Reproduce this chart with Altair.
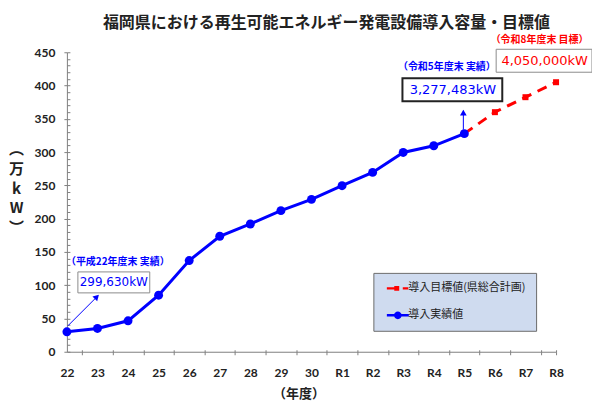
import json
import altair as alt
import pandas as pd

# ---------------- data ----------------
categories = ["22", "23", "24", "25", "26", "27", "28", "29", "30",
              "R1", "R2", "R3", "R4", "R5", "R6", "R7", "R8"]
actual_categories = ["22", "23", "24", "25", "26", "27", "28", "29", "30",
                     "R1", "R2", "R3", "R4", "R5"]
actual_values = [29.963, 35, 46.5, 85, 137, 173.5, 192, 212, 229,
                 249.5, 269.5, 299.5, 309.5, 327.7483]
target_categories = ["R5", "R6", "R7", "R8"]
target_values = [327.7483, 360, 382.5, 405]
series_names = ["導入目標値(県総合計画)", "導入実績値"]
series_colors = ["#ff0000", "#0000ff"]

ann_categories = ["22", "R5", "R8"]
ann_series = [series_names[1], series_names[1], series_names[0]]
ann_captions = ["（平成22年度末 実績）", "（令和5年度末 実績）", "（令和8年度末 目標）"]
ann_texts = ["299,630kW", "3,277,483kW", "4,050,000kW"]

rows = []
for c, v in zip(actual_categories, actual_values):
    rows.append({"series": series_names[1], "cat": c, "idx": categories.index(c), "value": v})
for c, v in zip(target_categories, target_values):
    rows.append({"series": series_names[0], "cat": c, "idx": categories.index(c), "value": v})
df = pd.DataFrame(rows)

ann_rows = []
for k, (c, s, cap, t) in enumerate(zip(ann_categories, ann_series, ann_captions, ann_texts)):
    v = df[(df.cat == c) & (df.series == s)].value.iloc[0]
    ann_rows.append({"key": k, "idx": categories.index(c), "value": v, "caption": cap, "text": t})
ann_df = pd.DataFrame(ann_rows)

# ---------------- styles ----------------
JP = "Noto Sans CJK JP"
NUM = "Lato"
BOXFONT = "DejaVu Sans"
AXC = "#808080"
W, H = 490, 300

xs = alt.Scale(domain=[0, len(categories) - 1], nice=False, zero=False)
ys = alt.Scale(domain=[0, 450], nice=False, zero=True)
half_ticks = [i + 0.5 for i in range(len(categories) - 1)] + [len(categories) - 1]

axis_x_ticks = alt.Axis(values=half_ticks, labels=False, ticks=True, tickSize=3,
                        tickColor=AXC, domainColor=AXC, grid=False, title=None, orient="bottom")
axis_x_labels = alt.Axis(values=list(range(len(categories))), ticks=False, tickSize=0, domain=False,
                         grid=False, orient="bottom",
                         labelExpr=json.dumps(categories) + "[datum.value]",
                         labelFont=NUM, labelFontSize=12, labelFontWeight="bold", labelColor="#222",
                         labelPadding=16, labelFlush=False, labelOverlap=False,
                         title="（年度）", titleFont=JP, titleFontSize=13, titleFontWeight="bold",
                         titleColor="#222", titleX=232, titleY=42, titleBaseline="middle",
                         titleAlign="center")
axis_x_inner = alt.Axis(values=half_ticks, labels=False, ticks=True, tickSize=2, tickColor=AXC,
                        domain=False, grid=False, title=None, orient="top", offset=-H)
axis_y_main = alt.Axis(values=list(range(0, 451, 50)), tickSize=3, tickColor=AXC, domainColor=AXC,
                       grid=False, orient="left",
                       labelFont=NUM, labelFontSize=12, labelFontWeight="bold", labelColor="#222",
                       labelPadding=9,
                       title=["︵", "万", "k", "W", "︶"], titleAngle=0, titleFont=JP,
                       titleFontSize=15, titleFontWeight="bold", titleColor="#222",
                       titleX=-51, titleY=89, titleAlign="center", titleBaseline="top",
                       titleLineHeight=20)
axis_y_inner = alt.Axis(values=list(range(0, 451, 10)), tickSize=3, tickColor=AXC, domain=False,
                        labels=False, grid=False, title=None, orient="right", offset=-W)

# legend symbols: filled shapes (line segment + marker) in [-2, 2] units
red_path = ("M-2,-0.22H-0.65V0.22H-2Z"
            "M-0.65,-0.45H0.25V0.45H-0.65Z"
            "M0.9,-0.22H1.9V0.22H0.9Z")
blue_path = ("M-2,-0.22H-0.6V0.22H-2Z"
             "M-0.7,0A0.7,0.7,0,1,1,0.7,0A0.7,0.7,0,1,1,-0.7,0Z"
             "M0.6,-0.22H2V0.22H0.6Z")

legend = alt.Legend(
    orient="none", legendX=307, legendY=221, title=None,
    fillColor="#cfdbef", strokeColor="#6b6b6b", padding=10,
    symbolSize=121, symbolOffset=9, labelOffset=5, rowPadding=15,
    labelFont=JP, labelFontSize=11, labelColor="#222", symbolOpacity=1,
    symbolStrokeWidth=0,
)

base = alt.Chart(df)
is_target = alt.datum.series == series_names[0]
is_actual = alt.datum.series == series_names[1]

target_line = base.transform_filter(is_target).mark_line(
    strokeWidth=3, strokeDash=[10, 7], color=series_colors[0]).encode(
    x=alt.X("idx:Q", scale=xs, axis=axis_x_ticks),
    y=alt.Y("value:Q", scale=ys, axis=axis_y_main))
actual_line = base.transform_filter(is_actual).mark_line(strokeWidth=3, color=series_colors[1]).encode(
    x=alt.X("idx:Q", scale=xs, axis=axis_x_labels),
    y=alt.Y("value:Q", scale=ys, axis=axis_y_inner))
target_pts = base.transform_filter(is_target).mark_square(size=36, color=series_colors[0], opacity=1).encode(
    x=alt.X("idx:Q", scale=xs, axis=axis_x_inner),
    y=alt.Y("value:Q", scale=ys, axis=None))
actual_pts = base.transform_filter(is_actual).mark_circle(size=80, color=series_colors[1], opacity=1).encode(
    x=alt.X("idx:Q", scale=xs, axis=None),
    y=alt.Y("value:Q", scale=ys, axis=None))
legend_carrier = base.mark_point(filled=True, opacity=0).encode(
    x=alt.X("idx:Q", scale=xs, axis=None),
    y=alt.Y("value:Q", scale=ys, axis=None),
    color=alt.Color("series:N", scale=alt.Scale(domain=series_names, range=series_colors), legend=legend),
    shape=alt.Shape("series:N", scale=alt.Scale(domain=series_names, range=[red_path, blue_path]),
                    legend=legend))

# annotation styles: caption offset, box offsets, text offset, colours
ann_style = [
    dict(cap=(51, -70), box=(11, 83, -60, -39), txt=(47, -49.5), col=series_colors[1],
         bstroke="#8c8c8c", bw=1, fs=12, arrow=(1, 30, -6, -35), angle=45),
    dict(cap=(-17.5, -66.5), box=(-62, 38, -55.5, -32.5), txt=(-11.5, -44), col=series_colors[1],
         bstroke="#222222", bw=2, fs=13, arrow=(-1, -1, -4, -23), angle=0),
    dict(cap=(-16.5, -42), box=(-60, 36, -33, -10), txt=(-11.5, -21.5), col=series_colors[0],
         bstroke="#8c8c8c", bw=1, fs=13, arrow=None, angle=None),
]

ann_base = alt.Chart(ann_df)
ax = alt.X("idx:Q", scale=xs, axis=None)
ay = alt.Y("value:Q", scale=ys, axis=None)
ann_layers = []
for k, st in enumerate(ann_style):
    b = ann_base.transform_filter(alt.datum.key == k)
    if st["arrow"]:
        x0, x1, y0, y1 = st["arrow"]
        ann_layers.append(b.mark_rule(color=st["col"], strokeWidth=1, xOffset=x0, x2Offset=x1,
                                      yOffset=y0, y2Offset=y1).encode(x=ax, x2="idx", y=ay, y2="value"))
        ann_layers.append(b.mark_point(shape="triangle-up", filled=True, size=45, opacity=1,
                                       color=st["col"], angle=st["angle"],
                                       xOffset=x1, yOffset=y1 + (0 if st["angle"] else 2)).encode(x=ax, y=ay))
    bx0, bx1, by0, by1 = st["box"]
    ann_layers.append(b.mark_rect(fill="white", stroke=st["bstroke"], strokeWidth=st["bw"],
                                  xOffset=bx0, x2Offset=bx1, yOffset=by0, y2Offset=by1)
                      .encode(x=ax, x2="idx", y=ay, y2="value"))
    ann_layers.append(b.mark_text(font=BOXFONT, fontSize=st["fs"], color=st["col"],
                                  dx=st["txt"][0], dy=st["txt"][1], align="center", baseline="middle")
                      .encode(x=ax, y=ay, text="text:N"))
    ann_layers.append(b.mark_text(font=JP, fontSize=10, fontWeight="bold", color=st["col"],
                                  dx=st["cap"][0], dy=st["cap"][1], align="center", baseline="middle")
                      .encode(x=ax, y=ay, text="caption:N"))

chart = alt.layer(target_line, actual_line, target_pts, actual_pts, legend_carrier, *ann_layers).properties(
    width=W, height=H,
    title=alt.TitleParams("福岡県における再生可能エネルギー発電設備導入容量・目標値",
                          font=JP, fontSize=16, fontWeight="bold", color="#222",
                          anchor="middle", dx=15),
    autosize=alt.AutoSizeParams(type="none"),
    padding={"left": 59, "top": 44, "right": 36, "bottom": 52},
    background="white",
).resolve_axis(x="independent", y="independent").configure_view(stroke=None)

chart.save("out.html", embed_options={"renderer": "svg", "actions": False})
